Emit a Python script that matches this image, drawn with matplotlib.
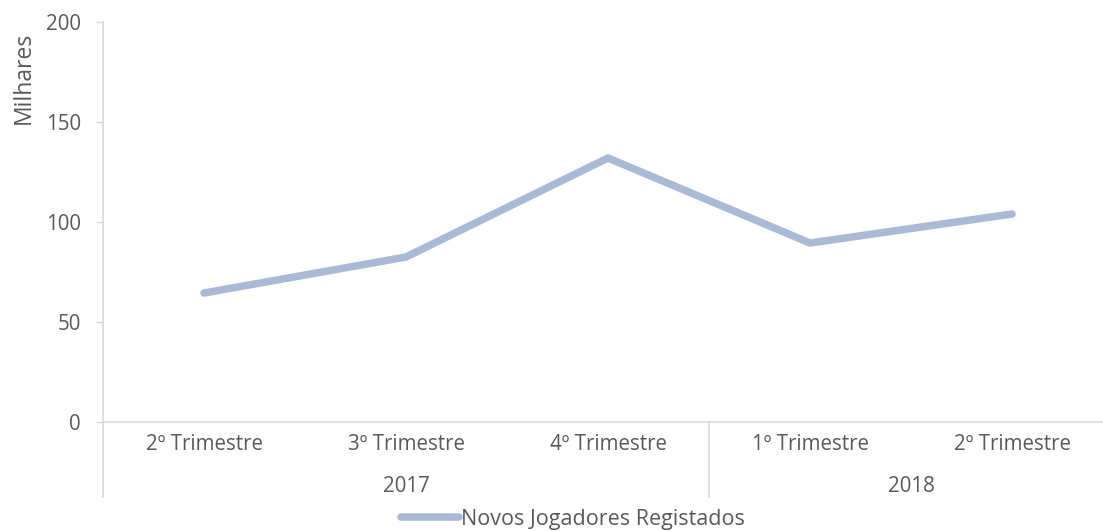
import matplotlib
matplotlib.use("Agg")
import matplotlib.pyplot as plt
import matplotlib.transforms as mtransforms

# data (milhares)
trimestres = ["2º Trimestre", "3º Trimestre", "4º Trimestre", "1º Trimestre", "2º Trimestre"]
anos = ["2017", "2018"]
anos_span = [(0, 2), (3, 4)]
novos_jogadores = [64.5, 82.5, 132, 89.5, 104]
serie_nome = "Novos Jogadores Registados"

fs = 14.8
plt.rcParams.update({"font.family": ["Open Sans", "DejaVu Sans"], "font.size": fs})
txt = "#595959"
axc = "#D9D9D9"
linec = "#A9B9D6"

W, H = 1103, 531
fig = plt.figure(figsize=(W / 100, H / 100), dpi=100)
ax = fig.add_axes([103 / W, (H - 422) / H, 1010 / W, 400 / H])

x = list(range(len(trimestres)))
ax.plot(x, novos_jogadores, color=linec, lw=5.4, solid_capstyle="round",
        solid_joinstyle="round", label=serie_nome)

ax.set_xlim(-0.5, len(trimestres) - 0.5)
ax.set_ylim(0, 200)
ax.set_yticks([0, 50, 100, 150, 200])
ax.tick_params(axis="y", colors=axc, labelcolor=txt, length=5, width=1, labelsize=fs, pad=11)
ax.set_xticks([])
for s in ["top", "right"]:
    ax.spines[s].set_visible(False)
ax.spines["left"].set_color(axc)
ax.spines["bottom"].set_color(axc)
ax.spines["left"].set_linewidth(1.2)
ax.spines["bottom"].set_linewidth(1.2)

trans = mtransforms.blended_transform_factory(ax.transData, ax.transAxes)
for i, t in enumerate(trimestres):
    ax.text(i, -23 / 400, t, transform=trans, ha="center", va="center", color=txt, fontsize=fs)
for a, (s, e) in zip(anos, anos_span):
    ax.text((s + e) / 2, -64 / 400, a, transform=trans, ha="center", va="center", color=txt, fontsize=fs)
for xs in [-0.5, 2.5]:
    ax.plot([xs, xs], [0, -75 / 400], transform=trans, color=axc, lw=1.2, clip_on=False)

fig.text(24 / W, 1 - 78 / H, "Milhares", rotation=90, ha="center", va="center", color=txt, fontsize=16.5)

fig.legend(loc="center", bbox_to_anchor=(573 / W, 1 - 519 / H), frameon=False,
           handlelength=2.7, handletextpad=0.1, fontsize=15.5, labelcolor=txt)

fig.savefig("out.png", dpi=100)
